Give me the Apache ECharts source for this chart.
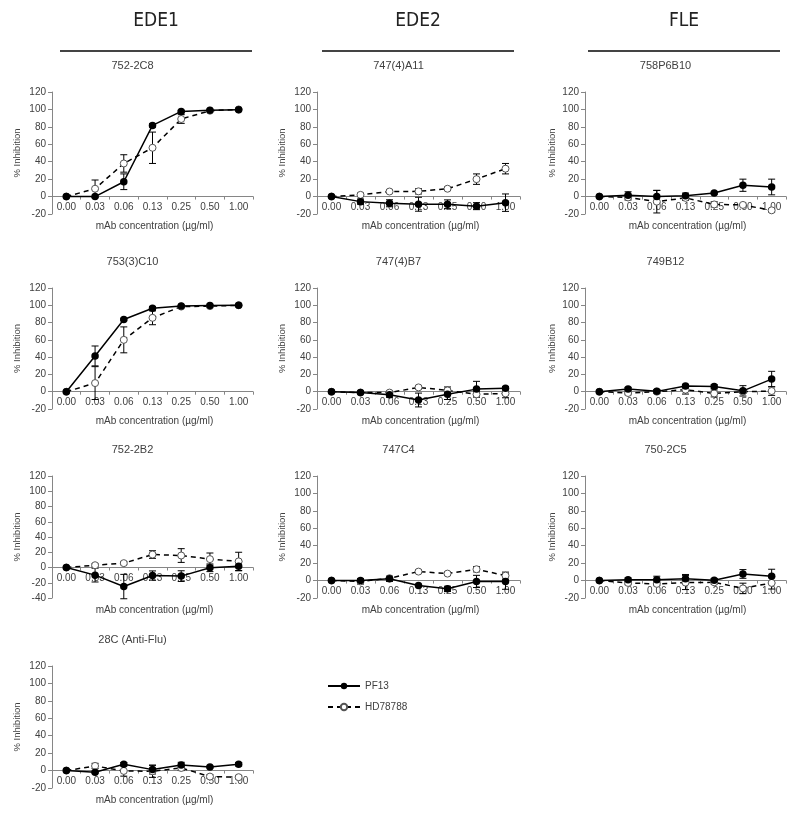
<!DOCTYPE html>
<html><head><meta charset="utf-8">
<script src="https://cdn.jsdelivr.net/npm/echarts@6/dist/echarts.min.js"></script>
<style>html,body{margin:0;padding:0;background:#fff}#c{width:800px;height:818px}</style>
</head><body><div id="c"></div>
<script>
const concentrations = ['0.00','0.03','0.06','0.13','0.25','0.50','1.00'];
const groupNames = ['EDE1','EDE2','FLE'];
const seriesNames = ['PF13','HD78788'];

// 752-2C8
const pf_752_2C8 = [0, 0, 17, 81.7, 97.7, 99, 99.5];
const pfErr_752_2C8 = [0, 0.5, 9, 2, 1, 0.5, 0.5];
const hd_752_2C8 = [0, 9, 38, 56, 89, 98.5, 100];
const hdErr_752_2C8 = [0, 10, 10, 18, 5, 1, 0.5];
// 747(4)A11
const pf_747A11 = [0, -5.8, -7.7, -8.8, -8.8, -11, -7];
const pfErr_747A11 = [0, 3, 4, 8, 5, 4, 10];
const hd_747A11 = [0, 2, 5.8, 6, 9, 20, 32];
const hdErr_747A11 = [0, 2, 2, 3, 2, 6, 6];
// 758P6B10
const pf_758P6B10 = [0, 1.5, 0, 1, 4, 13, 11];
const pfErr_758P6B10 = [0, 4, 7, 3, 1, 7, 9];
const hd_758P6B10 = [0, -1, -5.8, -1.5, -9, -9.6, -15.8];
const hdErr_758P6B10 = [0, 3, 13, 3, 3, 1, 2];
// 753(3)C10
const pf_753C10 = [0, 41.4, 83.6, 96.6, 99.3, 99.7, 100];
const pfErr_753C10 = [0, 11.5, 1, 2, 0.5, 0.5, 0.5];
const hd_753C10 = [0, 10, 60, 85.5, 98.5, 99, 100];
const hdErr_753C10 = [0, 19, 15, 8, 1, 0.5, 0.5];
// 747(4)B7
const pf_747B7 = [0, -1, -3.5, -9.6, -3, 3, 4];
const pfErr_747B7 = [0, 2, 3, 8, 6, 9, 2];
const hd_747B7 = [0, -1, -1, 5, 1.5, -3, -2];
const hdErr_747B7 = [0, 2, 2, 2, 4, 3, 5];
// 749B12
const pf_749B12 = [0, 3, 0.4, 6.5, 6, 1, 14.6];
const pfErr_749B12 = [0, 2, 2, 2, 2, 6, 9];
const hd_749B12 = [0, -1.5, 0, 2.3, -2, 0, 0.8];
const hdErr_749B12 = [0, 2, 2, 5, 4, 2, 5];
// 752-2B2
const pf_752_2B2 = [0, -10, -25, -10.5, -11.3, -0.4, 1.7];
const pfErr_752_2B2 = [0, 9, 16, 6, 7, 5, 6];
const hd_752_2B2 = [0, 3, 5.7, 17, 15.7, 11, 8];
const hdErr_752_2B2 = [0, 2, 2, 5, 9, 8, 12];
// 747C4
const pf_747C4 = [0, 0, 2, -5.7, -9.5, -1, -1];
const pfErr_747C4 = [0, 2, 3, 1, 3, 7, 9];
const hd_747C4 = [0, -1, 2.7, 10.3, 8, 13, 5.7];
const hdErr_747C4 = [0, 3, 2, 2, 2, 3, 4];
// 750-2C5
const pf_750_2C5 = [0, 1, 1, 2, 0.4, 7.6, 5];
const pfErr_750_2C5 = [0, 2, 4, 5, 2, 5, 8];
const hd_750_2C5 = [0, -2.7, -3.8, -2.3, -2, -9, -2.7];
const hdErr_750_2C5 = [0, 2, 2, 8, 2, 6, 7];
// 28C (Anti-Flu)
const pf_28C = [0, -2, 7.2, 1.1, 6.5, 4.2, 7.2];
const pfErr_28C = [0, 1, 2, 5, 3, 1, 2];
const hd_28C = [0, 5.3, -0.4, -0.8, 3, -6.9, -7.6];
const hdErr_28C = [0, 3, 6, 7, 3, 2, 2];

const panels = [
  {title:'752-2C8', col:0, row:0, min:-20, pf:pf_752_2C8, pfErr:pfErr_752_2C8, hd:hd_752_2C8, hdErr:hdErr_752_2C8},
  {title:'747(4)A11', col:1, row:0, min:-20, pf:pf_747A11, pfErr:pfErr_747A11, hd:hd_747A11, hdErr:hdErr_747A11},
  {title:'758P6B10', col:2, row:0, min:-20, pf:pf_758P6B10, pfErr:pfErr_758P6B10, hd:hd_758P6B10, hdErr:hdErr_758P6B10},
  {title:'753(3)C10', col:0, row:1, min:-20, pf:pf_753C10, pfErr:pfErr_753C10, hd:hd_753C10, hdErr:hdErr_753C10},
  {title:'747(4)B7', col:1, row:1, min:-20, pf:pf_747B7, pfErr:pfErr_747B7, hd:hd_747B7, hdErr:hdErr_747B7},
  {title:'749B12', col:2, row:1, min:-20, pf:pf_749B12, pfErr:pfErr_749B12, hd:hd_749B12, hdErr:hdErr_749B12},
  {title:'752-2B2', col:0, row:2, min:-40, pf:pf_752_2B2, pfErr:pfErr_752_2B2, hd:hd_752_2B2, hdErr:hdErr_752_2B2},
  {title:'747C4', col:1, row:2, min:-20, pf:pf_747C4, pfErr:pfErr_747C4, hd:hd_747C4, hdErr:hdErr_747C4},
  {title:'750-2C5', col:2, row:2, min:-20, pf:pf_750_2C5, pfErr:pfErr_750_2C5, hd:hd_750_2C5, hdErr:hdErr_750_2C5},
  {title:'28C (Anti-Flu)', col:0, row:3, min:-20, pf:pf_28C, pfErr:pfErr_28C, hd:hd_28C, hdErr:hdErr_28C}
];

const colLayout = [{left:52, width:201}, {left:317, width:203}, {left:585, width:201}];
const rowLayout = [{top:92, height:122}, {top:288, height:121}, {top:476, height:122}, {top:666, height:122}];
const Y_MAX = 120;
const TXT = '#404040', AX = '#868686';
const FONT = '"Liberation Sans", Arial, sans-serif';

function errRender(params, api) {
  const x = api.value(0), lo = api.value(1), hi = api.value(2);
  if (hi - lo < 1.5) return null;
  const a = api.coord([x, lo]), b = api.coord([x, hi]);
  const w = 3.5;
  const st = {stroke:'#000', lineWidth:1};
  return {type:'group', children:[
    {type:'line', shape:{x1:a[0], y1:a[1], x2:b[0], y2:b[1]}, style:st},
    {type:'line', shape:{x1:a[0]-w, y1:a[1], x2:a[0]+w, y2:a[1]}, style:st},
    {type:'line', shape:{x1:b[0]-w, y1:b[1], x2:b[0]+w, y2:b[1]}, style:st}
  ]};
}

const grid = [], xAxis = [], yAxis = [], series = [], graphic = [];
panels.forEach((p, i) => {
  const c = colLayout[p.col], r = rowLayout[p.row];
  grid.push({left:c.left, top:r.top, width:c.width, height:r.height});
  // place the category axis at the value 0 of the y scale
  const zeroOffset = -r.height * (0 - p.min) / (Y_MAX - p.min);
  xAxis.push({type:'category', gridIndex:i, data:concentrations, boundaryGap:true,
    position:'bottom', offset:zeroOffset,
    axisLine:{onZero:false, lineStyle:{color:AX, width:1}},
    axisTick:{show:true, length:3, inside:false, lineStyle:{color:AX}},
    axisLabel:{interval:0, fontSize:10, color:TXT, margin:6, fontFamily:FONT},
    splitLine:{show:false}});
  yAxis.push({type:'value', gridIndex:i, min:p.min, max:Y_MAX, interval:20,
    name:'% Inhibition', nameLocation:'middle', nameGap: p.col === 2 ? 28 : 30,
    nameTextStyle:{fontSize:9.5, color:TXT, fontFamily:FONT},
    axisLine:{show:true, onZero:false, lineStyle:{color:AX, width:1}},
    axisTick:{show:true, length:4, lineStyle:{color:AX}},
    axisLabel:{fontSize:10, color:TXT, margin:6, fontFamily:FONT},
    splitLine:{show:false}});
  const errData = (v, e) => v.map((y, k) => [k, y - e[k], y + e[k]]);
  series.push({type:'custom', name:'PF13 error', xAxisIndex:i, yAxisIndex:i, renderItem:errRender,
    encode:{x:0, y:[1,2]}, data:errData(p.pf, p.pfErr), z:3, silent:true});
  series.push({type:'custom', name:'HD78788 error', xAxisIndex:i, yAxisIndex:i, renderItem:errRender,
    encode:{x:0, y:[1,2]}, data:errData(p.hd, p.hdErr), z:3, silent:true});
  series.push({type:'line', name:'HD78788', xAxisIndex:i, yAxisIndex:i, data:p.hd,
    symbol:'circle', symbolSize:7, showAllSymbol:true,
    lineStyle:{color:'#000', width:1.5, type:[5,4]},
    itemStyle:{color:'#fff', borderColor:'#555', borderWidth:1}, z:4, animation:false});
  series.push({type:'line', name:'PF13', xAxisIndex:i, yAxisIndex:i, data:p.pf,
    symbol:'circle', symbolSize:7.5, showAllSymbol:true,
    lineStyle:{color:'#000', width:1.5},
    itemStyle:{color:'#000'}, z:5, animation:false});
  graphic.push({type:'text', x:c.left + c.width/2 - 20, y:r.top - 26,
    style:{text:p.title, fill:TXT, font:'11px ' + FONT, align:'center', verticalAlign:'middle'}});
  graphic.push({type:'text', x:c.left + c.width/2 + 2, y:r.top + r.height + 12,
    style:{text:'mAb concentration (\u00b5g/ml)', fill:TXT, font:'10px ' + FONT, align:'center', verticalAlign:'middle'}});
});

const headerLines = [[60,252],[322,514],[588,780]];
groupNames.forEach((g, k) => {
  const [x1, x2] = headerLines[k];
  graphic.push({type:'text', x:(x1+x2)/2, y:21,
    style:{text:g, fill:'#222', font:'19px "Liberation Sans Narrow", "DejaVu Sans Condensed", Arial, sans-serif', align:'center', verticalAlign:'middle'}});
  graphic.push({type:'line', shape:{x1:x1, y1:51, x2:x2, y2:51}, style:{stroke:'#444', lineWidth:2}});
});

const chart = echarts.init(document.getElementById('c'), null, {renderer:'canvas'});
chart.setOption({
  animation:false,
  backgroundColor:'#fff',
  grid, xAxis, yAxis, series, graphic,
  legend:{data:seriesNames, orient:'vertical', left:322, top:676, itemWidth:32, itemHeight:8, itemGap:11,
    textStyle:{fontSize:10, color:TXT, fontFamily:FONT}, selectedMode:false}
});
</script></body></html>
